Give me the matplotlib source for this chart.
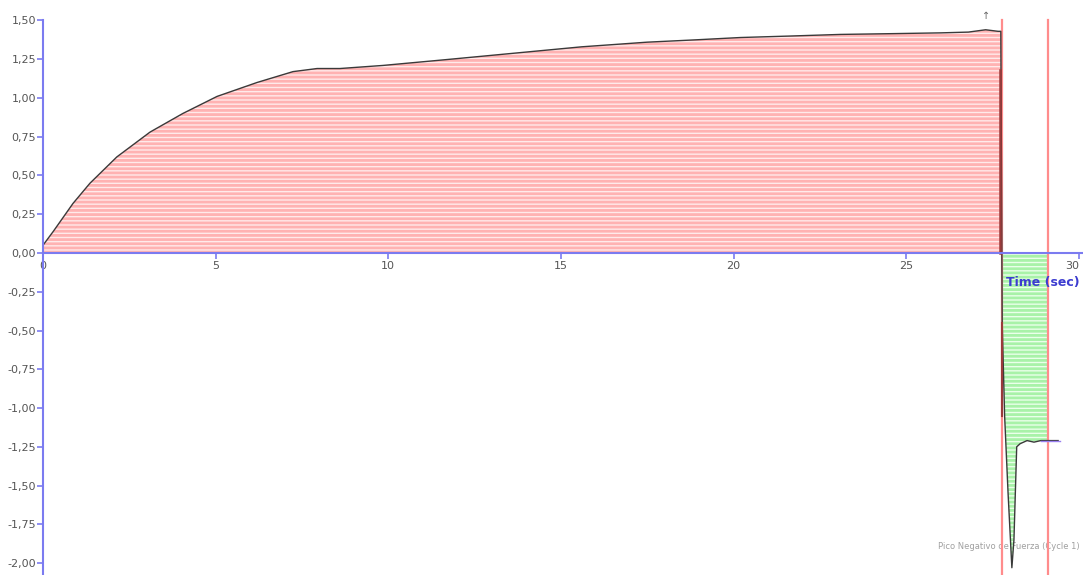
import numpy as np
import matplotlib.pyplot as plt
from matplotlib.ticker import FuncFormatter

# curve (time in s, force)
t_push = [0.0, 0.3, 0.87, 1.36, 2.14, 3.1, 4.05, 5.04, 6.2, 7.24, 7.94, 8.6,
          9.85, 11.8, 13.7, 15.6, 17.5, 18.9, 20.2, 21.7, 23.1, 24.6, 26.0,
          26.8, 27.3, 27.66, 27.74]
f_push = [0.05, 0.14, 0.32, 0.45, 0.62, 0.78, 0.90, 1.01, 1.10, 1.17, 1.19, 1.19,
          1.21, 1.25, 1.29, 1.33, 1.36, 1.375, 1.39, 1.40, 1.41, 1.415, 1.42,
          1.425, 1.44, 1.43, 1.43]

t_pull = [27.77, 27.78, 27.85, 27.95, 28.06, 28.12, 28.2, 28.3, 28.5, 28.7,
          28.9, 29.1, 29.4]
f_pull = [0.0, -0.45, -1.05, -1.55, -2.03, -1.85, -1.25, -1.23, -1.21, -1.22,
          -1.21, -1.21, -1.21]

cursor_a = 27.77
cursor_b = 29.1
y_ticks = [1.5, 1.25, 1.0, 0.75, 0.5, 0.25, 0.0, -0.25, -0.5, -0.75, -1.0,
           -1.25, -1.5, -1.75, -2.0]
x_ticks = [0, 5, 10, 15, 20, 25, 30]

t = np.array(t_push + t_pull)
f = np.array(f_push + f_pull)

plt.rcParams['hatch.linewidth'] = 2.0

fig = plt.figure(figsize=(10.83, 5.75), dpi=100)
ax = fig.add_axes([0, 0, 1, 1])
ax.set_xlim(-1.245, 30.12)
ax.set_ylim(-2.077, 1.632)

blue = '#7b7bf0'

# red area (push)
tp = np.array(t_push + [cursor_a])
fp = np.array(f_push + [0.0])
ax.fill_between(tp, 0, fp, facecolor='#ffeaea', edgecolor='#ffb2b2',
                hatch='----', linewidth=0, zorder=1)

# green area (pull)
tg = np.array([cursor_a] + t_pull[1:])
fg = np.array([0.0] + f_pull[1:])
m = tg <= cursor_b
ax.fill_between(tg[m], 0, fg[m], facecolor='#eaffea', edgecolor='#a8f2a8',
                hatch='----', linewidth=0, zorder=1)

# text behind the fills
ax.text(30.03, -1.89, 'Pico Negativo de Fuerza (Cycle 1)', fontsize=6,
        color='#a0a0a0', ha='right', va='center', zorder=0.5)

# cursors
for c in (cursor_a, cursor_b):
    ax.plot([c, c], [ax.get_ylim()[0], 1.5], color='#ff8c8c', lw=1.6, zorder=2)

# curve
ax.plot(t, f, color='#3a3a3a', lw=1.0, zorder=3)
ax.plot([27.73, 27.73], [1.18, 0.0], color='#9a3a3a', lw=1.8, zorder=3)
ax.plot([27.76, 27.76], [-0.45, -1.05], color='#9a3a3a', lw=1.5, zorder=3)
ax.plot([28.9, 29.45], [-1.21, -1.21], color='#9a80f0', lw=1.0, zorder=3)

ax.text(27.3, 1.53, '↑', fontsize=7, color='#666666', ha='center', va='center')

# axes
for s in ('top', 'right'):
    ax.spines[s].set_visible(False)
ax.spines['left'].set_position(('data', 0))
ax.spines['bottom'].set_position(('data', 0))
ax.spines['left'].set_color(blue)
ax.spines['bottom'].set_color(blue)
ax.spines['left'].set_linewidth(1.5)
ax.spines['bottom'].set_linewidth(1.5)
ax.spines['left'].set_bounds(-2.077, 1.5)
ax.spines['bottom'].set_bounds(0, 30.12)
ax.spines['left'].set_zorder(4)
ax.spines['bottom'].set_zorder(4)

ax.set_yticks(y_ticks)
ax.set_xticks(x_ticks)
ax.yaxis.set_major_formatter(FuncFormatter(lambda v, p: f'{v:.2f}'.replace('.', ',')))
ax.xaxis.set_major_formatter(FuncFormatter(lambda v, p: f'{v:.0f}'))
ax.tick_params(axis='both', colors=blue, labelcolor='#555555', labelsize=8,
               length=4, width=1.2, direction='out')
ax.tick_params(axis='y', pad=1)
ax.tick_params(axis='x', pad=2)
ax.get_xticklabels()[-1].set_ha('right')

ax.text(28.96, -0.19, 'Time (sec)', fontsize=9, color='#3c3cd0',
        fontweight='bold', ha='center', va='center')

fig.savefig('out.png', dpi=100)
